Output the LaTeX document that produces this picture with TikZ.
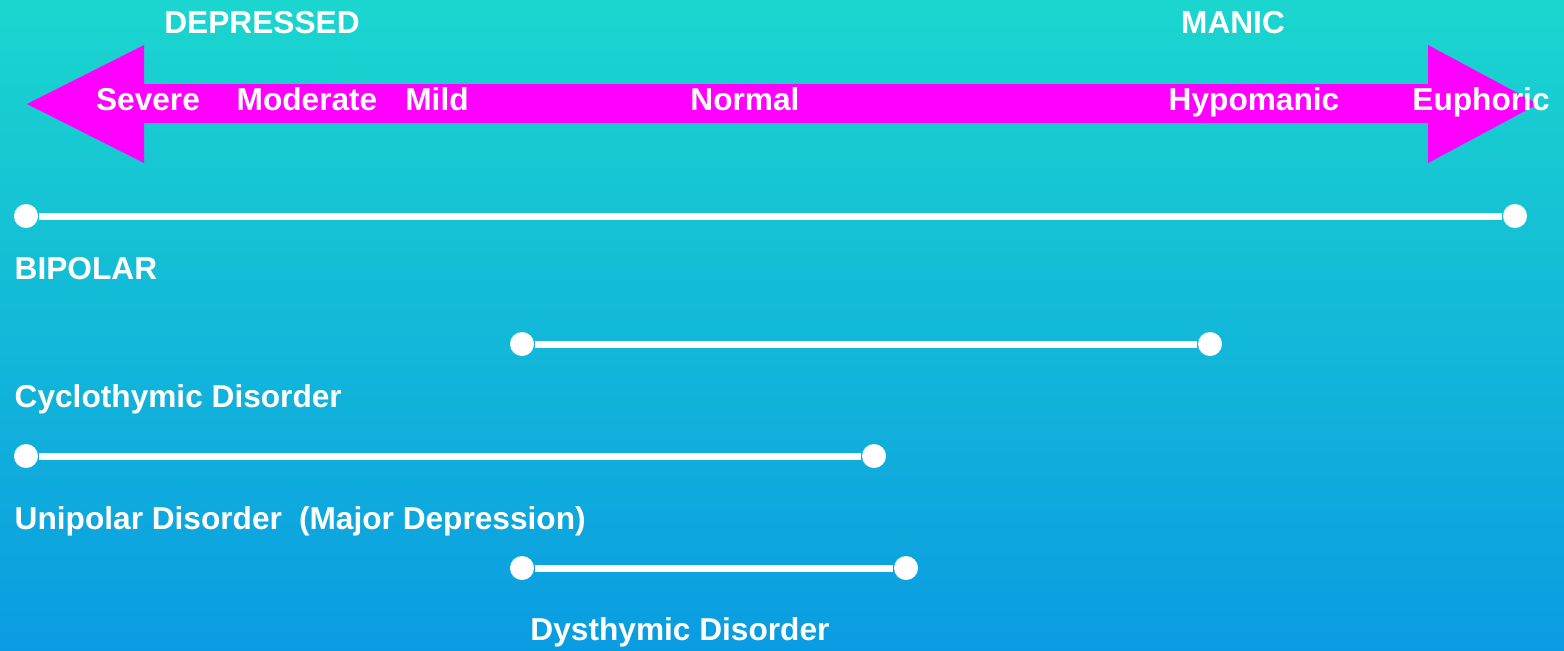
\documentclass[tikz,border=0pt]{standalone}
\usepackage{fontspec}
\setmainfont{Liberation Sans}
\definecolor{bgtop}{RGB}{27,214,206}
\definecolor{bgmid}{RGB}{30,198,228}
\definecolor{bgbot}{RGB}{10,156,226}
\definecolor{arrowpink}{RGB}{255,0,255}
\tikzset{
  dot/.style={circle, fill=white, inner sep=0pt, minimum size=0.24cm},
  bar/.style={white, line width=0.07cm},
  lbl/.style={text=white, font=\fontsize{9}{10}\selectfont\bfseries, inner sep=0pt, anchor=base}
}

\begin{document}
\begin{tikzpicture}[x=0.01cm, y=-0.01cm]
    \shade[top color=bgtop, middle color=bgmid, bottom color=bgbot] (0,0) rectangle (1564,650);
    \useasboundingbox (0,0) rectangle (1564,650);
    % scale arrow
    \fill[arrowpink] (27,104) -- (144,45) -- (144,84) -- (1428,84) -- (1428,45) -- (1538,104)
        -- (1428,163) -- (1428,123) -- (144,123) -- (144,163) -- cycle;
    \node[lbl] (dep) at (262,33) {DEPRESSED};
    \node[lbl] (man) at (1233,33) {MANIC};
    \node[lbl] (sev) at (148,110) {Severe};
    \node[lbl] (mod) at (307,110) {Moderate};
    \node[lbl] (mil) at (437,110) {Mild};
    \node[lbl] (nor) at (745,110) {Normal};
    \node[lbl] (hyp) at (1254,110) {Hypomanic};
    \node[lbl] (eup) at (1481,110) {Euphoric};
    % ranges
    \node[dot] (bipL) at (26,216) {};
    \node[dot] (bipR) at (1515,216) {};
    \draw[bar] (bipL) -- (bipR);
    \node[lbl, anchor=base west] (bip) at (14,279) {BIPOLAR};
    \node[dot] (cycL) at (522,344) {};
    \node[dot] (cycR) at (1210,344) {};
    \draw[bar] (cycL) -- (cycR);
    \node[lbl, anchor=base west] (cyc) at (14,407) {Cyclothymic Disorder};
    \node[dot] (uniL) at (26,456) {};
    \node[dot] (uniR) at (874,456) {};
    \draw[bar] (uniL) -- (uniR);
    \node[lbl, anchor=base west] (uni) at (14,529) {Unipolar Disorder\hspace{0.17cm}(Major Depression)};
    \node[dot] (dysL) at (522,568) {};
    \node[dot] (dysR) at (906,568) {};
    \draw[bar] (dysL) -- (dysR);
    \node[lbl] (dys) at (680,640) {Dysthymic Disorder};
\end{tikzpicture}
\end{document}
